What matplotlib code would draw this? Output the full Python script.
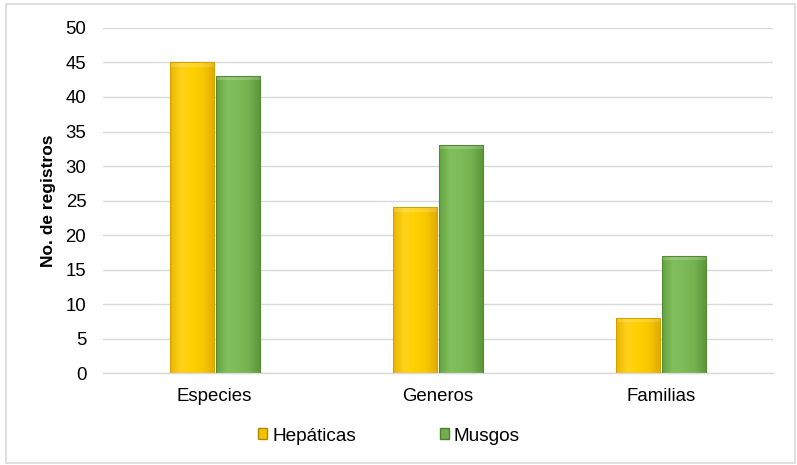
import matplotlib
matplotlib.use("Agg")
import matplotlib.pyplot as plt
import numpy as np
from matplotlib.colors import LinearSegmentedColormap
from matplotlib.patches import Rectangle

categories = ["Especies", "Generos", "Familias"]
hepaticas = [45, 24, 8]
musgos = [43, 33, 17]
series_names = ["Hepáticas", "Musgos"]
yticks = [0, 5, 10, 15, 20, 25, 30, 35, 40, 45, 50]

plt.rcParams['font.family'] = ['Liberation Sans', 'DejaVu Sans']

fig = plt.figure(figsize=(7.97, 4.65), dpi=100)
ax = fig.add_axes([0.1292, 0.1978, 0.8407, 0.742])

# figure border
fig.patches.append(Rectangle((0.008, 0.004), 0.99, 0.987, transform=fig.transFigure,
                             fill=False, edgecolor='#d9d9d9', linewidth=1.2))

x = np.arange(len(categories))
w = 0.197
gap = 0.005

yellow_cmap = LinearSegmentedColormap.from_list('y', ['#eab400', '#ffd21a', '#ffd000', '#f7c800', '#e2ac00'])
green_cmap = LinearSegmentedColormap.from_list('g', ['#64a341', '#80bf5b', '#7cbb58', '#74b250', '#5c963a'])

grad = np.linspace(0, 1, 256).reshape(1, -1)

def draw(vals, offset, cmap, edge):
    bars = ax.bar(x + offset, vals, width=w, color='none', edgecolor=edge, linewidth=0.8, zorder=3)
    for b in bars:
        x0, y0 = b.get_x(), b.get_y()
        bw, bh = b.get_width(), b.get_height()
        im = ax.imshow(grad, cmap=cmap, extent=[x0, x0 + bw, y0, y0 + bh], aspect='auto', zorder=2,
                       interpolation='bilinear')
        im.set_clip_path(b)
        ax.add_patch(Rectangle((x0, y0 + bh - 0.6), bw, 0.6, facecolor='white', alpha=0.18,
                               edgecolor='none', zorder=2.5))
    return bars

draw(hepaticas, -(w / 2 + gap), yellow_cmap, '#d0a400')
draw(musgos, (w / 2 + gap), green_cmap, '#548a37')

ax.set_xlim(-0.5, len(categories) - 0.5)
ax.set_ylim(0, 50)
ax.set_yticks(yticks)
ax.set_xticks(x)
ax.set_xticklabels(categories, fontsize=13.4)
ax.tick_params(axis='y', labelsize=13.4, length=0, pad=12)
ax.tick_params(axis='x', length=0, pad=11)
ax.yaxis.grid(True, color='#d9d9d9', linewidth=1.0, zorder=0)
ax.set_axisbelow(True)
for s in ['top', 'right', 'left']:
    ax.spines[s].set_visible(False)
ax.spines['bottom'].set_color('#d9d9d9')
ax.spines['bottom'].set_linewidth(1.0)
ax.set_ylabel("No. de registros", fontsize=12.5, fontweight='bold', labelpad=7)

handles = [Rectangle((0, 0), 1, 1, facecolor='#f2c200', edgecolor='#b08a00'),
           Rectangle((0, 0), 1, 1, facecolor='#72b04e', edgecolor='#4e7f33')]
fig.legend(handles, series_names, loc='center', bbox_to_anchor=(0.488, 0.062), ncol=2, frameon=False,
           fontsize=13.7, handlelength=0.5, handleheight=0.5, handletextpad=0.25, columnspacing=4.4)

fig.savefig("out.png", dpi=100)
